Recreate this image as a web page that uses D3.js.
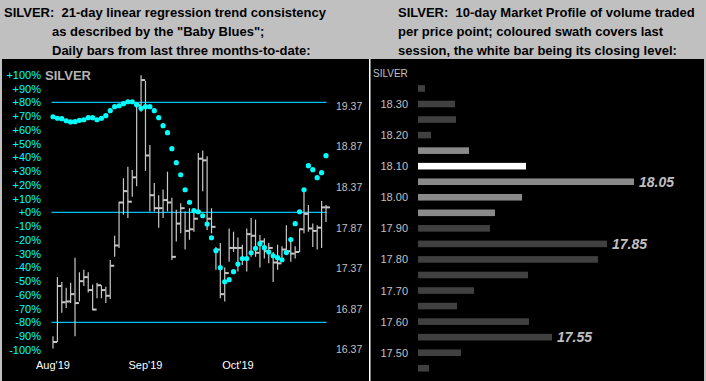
<!DOCTYPE html>
<html><head><meta charset="utf-8">
<script src="https://cdn.jsdelivr.net/npm/d3@7/dist/d3.min.js"></script>
<style>
html,body{margin:0;padding:0;background:#c0c0c0;}
svg{display:block;font-family:"Liberation Sans",Arial,sans-serif;}
text{white-space:pre;}
</style></head><body>
<svg id="c" width="706" height="381"></svg>
<script>
// ---------- DATA ----------
const pctTicks = [100,90,80,70,60,50,40,30,20,10,0,-10,-20,-30,-40,-50,-60,-70,-80,-90,-100];
const refLines = [80, 0, -80];
const priceTicks = [19.37, 18.87, 18.37, 17.87, 17.37, 16.87, 16.37];
const monthLabels = ["Aug'19", "Sep'19", "Oct'19"];
const monthIndex = [0, 21, 42];
// daily bars: high, low, close
const highs = [16.53,17.26,17.20,17.13,17.19,17.50,17.32,17.35,17.32,17.17,17.19,17.16,17.14,17.47,17.77,18.19,18.48,18.62,18.58,19.40,19.75,19.68,18.89,18.42,18.27,18.34,18.56,18.24,18.09,18.17,18.07,18.11,18.07,18.79,18.82,18.75,18.11,17.63,17.68,17.38,17.86,17.82,17.75,17.66,17.86,17.99,17.97,17.78,17.74,17.68,17.57,17.66,17.64,17.90,17.70,17.64,17.86,18.35,18.15,17.92,17.90,18.20,18.15];
const lows  = [16.38,16.46,16.82,16.88,16.94,16.53,16.96,17.15,17.07,16.85,17.00,17.00,16.94,16.99,17.51,17.62,18.03,17.99,18.25,18.38,19.30,18.57,18.07,18.07,17.87,17.99,18.07,17.47,17.70,17.80,17.60,17.72,17.82,18.07,18.32,17.84,17.80,17.35,17.00,16.96,17.45,17.57,17.33,17.41,17.33,17.51,17.51,17.38,17.49,17.43,17.20,17.35,17.45,17.54,17.45,17.49,17.57,17.80,17.82,17.63,17.60,17.62,17.94];
const closes= [16.46,17.15,16.95,16.96,17.05,16.94,17.21,17.26,17.10,16.86,17.16,17.10,17.03,17.40,17.65,18.18,18.32,18.19,18.49,19.38,19.69,18.76,18.27,18.11,18.11,18.21,18.18,17.51,17.92,18.11,17.83,17.85,17.98,18.72,18.70,17.98,17.88,17.60,17.05,17.31,17.62,17.62,17.62,17.49,17.79,17.77,17.56,17.70,17.58,17.62,17.44,17.43,17.60,17.58,17.55,17.57,17.85,18.04,17.86,17.83,17.87,18.12,18.12];
// "Baby Blues" trend consistency (%)
const blues = [69.5,68.4,68.1,66.6,65.7,65.9,66.9,67.3,68.8,68.8,67.3,68.4,70.3,73.9,76.8,77.5,79.0,80.4,80.4,78.3,75.6,76.8,76.8,73.9,68.8,63.0,57.9,46.3,36.1,27.3,16.4,7.3,1.2,0.4,-2.5,-8.5,-18.5,-27.9,-40.3,-50.5,-49.0,-43.2,-37.6,-33.6,-33.6,-29.4,-26.2,-22.8,-25.7,-28.9,-31.6,-33.0,-34.5,-29.3,-19.8,-8.3,0.4,16.4,33.9,31.0,25.2,28.8,41.2];
// market profile
const mpLevels = [18.35,18.30,18.25,18.20,18.15,18.10,18.05,18.00,17.95,17.90,17.85,17.80,17.75,17.70,17.65,17.60,17.55,17.50,17.45];
const mpVolume = [7,37,38,13,51,108,216,104,77,72,189,180,110,56,39,111,134,43,11];
const mpTicks = [18.30,18.20,18.10,18.00,17.90,17.80,17.70,17.60,17.50];
const swathLevels = [18.15,18.10,18.05,18.00,17.95];
const closeLevel = 18.10;
const peakLevels = [18.05,17.85,17.55];

const title1 = ["SILVER:  21-day linear regression trend consistency","as described by the \"Baby Blues\";","Daily bars from last three months-to-date:"];
const title2 = ["SILVER:  10-day Market Profile of volume traded","per price point; coloured swath covers last","session, the white bar being its closing level:"];

// ---------- DRAW ----------
const svg = d3.select("#c");
svg.append("rect").attr("x",0).attr("y",0).attr("width",706).attr("height",381).attr("fill","#c0c0c0");
svg.append("rect").attr("x",2).attr("y",59).attr("width",702).attr("height",322).attr("fill","#000");
svg.append("rect").attr("x",369).attr("y",59).attr("width",1.5).attr("height",322).attr("fill","#fff");

// titles
const tf = "bold 13px 'Liberation Sans', Arial, sans-serif";
title1.forEach((t,i)=>svg.append("text").attr("x", i===0?4:52).attr("y",16.7+i*19.2)
  .style("font",tf).style("white-space","pre").attr("fill","#000").text(t));
title2.forEach((t,i)=>svg.append("text").attr("x", 398).attr("y",16.7+i*19.2)
  .style("font",tf).style("white-space","pre").attr("fill","#000").text(t));

// ---- left chart ----
const x = d3.scaleLinear().domain([0, highs.length-1]).range([53, 326]);
const yPct = d3.scaleLinear().domain([-100,100]).range([349.8,74.8]);
const yPx = d3.scaleLinear().domain([16.37,19.37]).range([349.3,106]);

const pctAxis = d3.axisLeft(yPct).tickValues(pctTicks).tickSize(0).tickPadding(0)
  .tickFormat(d => (d>=0?"+":"") + d + "%");
const gP = svg.append("g").attr("transform","translate(41,0)").call(pctAxis);
gP.select(".domain").remove();
gP.selectAll("text").attr("fill","#00ffff").style("font-size","11px").style("font-family","'Liberation Sans',Arial,sans-serif");

const priceAxis = d3.axisRight(yPx).tickValues(priceTicks).tickSize(0).tickPadding(0)
  .tickFormat(d3.format(".2f"));
const gR = svg.append("g").attr("transform","translate(336,0)").call(priceAxis);
gR.select(".domain").remove();
gR.selectAll("text").attr("fill","#c0c0c0").style("font-size","10.5px").style("font-family","'Liberation Sans',Arial,sans-serif");

svg.append("text").attr("x",45).attr("y",80.3).attr("fill","#b4b4b4")
  .style("font","bold 13px 'Liberation Sans', Arial, sans-serif").text("SILVER");

// reference lines
svg.selectAll("line.ref").data(refLines).enter().append("line")
  .attr("x1",51.5).attr("x2",326.5)
  .attr("y1",d=>yPct(d)).attr("y2",d=>yPct(d))
  .attr("stroke","#00bfff").attr("stroke-width",1.2);

// bars
const bars = svg.append("g");
highs.forEach((h,i)=>{
  const xi = x(i);
  bars.append("line").attr("x1",xi).attr("x2",xi).attr("y1",yPx(h)).attr("y2",yPx(lows[i]))
    .attr("stroke","#c8c8c8").attr("stroke-width",1.2);
  bars.append("line").attr("x1",xi).attr("x2",xi+4).attr("y1",yPx(closes[i])).attr("y2",yPx(closes[i]))
    .attr("stroke","#c8c8c8").attr("stroke-width",2);
});

// baby blues dots
svg.append("g").selectAll("circle").data(blues).enter().append("circle")
  .attr("cx",(d,i)=>x(i)).attr("cy",d=>yPct(d)).attr("r",2.6).attr("fill","#00ffff");

// month labels
monthLabels.forEach((m,k)=>svg.append("text").attr("x",x(monthIndex[k])).attr("y",369)
  .attr("text-anchor","middle").attr("fill","#fff")
  .style("font","11px 'Liberation Sans', Arial, sans-serif").text(m));

// ---- right chart ----
const yMp = d3.scaleLinear().domain([17.50,18.30]).range([352.7,104]);
const xMp = d3.scaleLinear().domain([0,216]).range([418,634]);
const mpAxis = d3.axisLeft(yMp).tickValues(mpTicks).tickSize(0).tickPadding(0).tickFormat(d3.format(".2f"));
const gM = svg.append("g").attr("transform","translate(408,0)").call(mpAxis);
gM.select(".domain").remove();
gM.selectAll("text").attr("fill","#c0c0c0").style("font-size","11px").style("font-family","'Liberation Sans',Arial,sans-serif");

svg.append("text").attr("x",373).attr("y",77).attr("fill","#c0c0c0")
  .style("font","10px 'Liberation Sans', Arial, sans-serif").text("SILVER");

const same = (a,b)=>Math.abs(a-b)<1e-6;
svg.append("g").selectAll("rect").data(mpLevels).enter().append("rect")
  .attr("x",xMp(0)).attr("y",d=>yMp(d)-3.3).attr("height",6.6)
  .attr("width",(d,i)=>xMp(mpVolume[i])-xMp(0))
  .attr("fill",d=> same(d,closeLevel) ? "#ffffff" : (swathLevels.some(s=>same(s,d)) ? "#8a8a8a" : "#404040"));

peakLevels.forEach(p=>{
  const i = mpLevels.findIndex(l=>same(l,p));
  svg.append("text").attr("x",xMp(mpVolume[i])+5).attr("y",yMp(p)).attr("dy","0.36em")
    .attr("fill","#c0c0c0").style("font","italic bold 14px 'Liberation Sans', Arial, sans-serif")
    .text(d3.format(".2f")(p));
});
</script></body></html>
